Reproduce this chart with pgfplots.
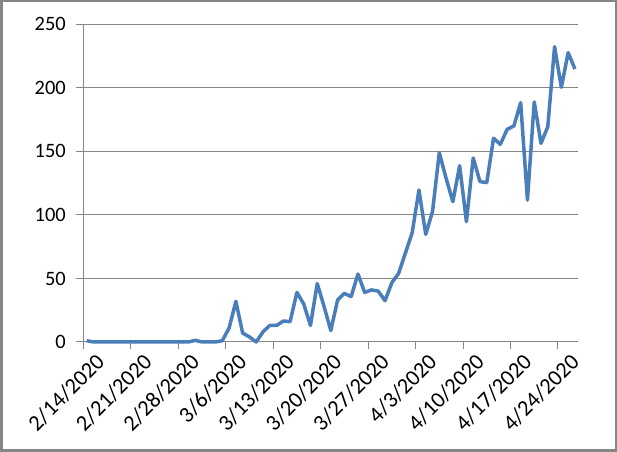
\documentclass[border=0pt]{standalone}
\usepackage{pgfplots}
\pgfplotsset{compat=1.18}
\usepackage{fontspec}
\setmainfont{Carlito}
\definecolor{serieblue}{RGB}{74,126,187}
\definecolor{gridgray}{RGB}{134,134,134}
\begin{document}
\begin{tikzpicture}[x=1bp,y=1bp]
\path[use as bounding box] (0,0) rectangle (617,452);
\begin{axis}[
  at={(83.3bp,110bp)}, anchor=south west,
  scale only axis, width=495bp, height=317.7bp,
  xmin=-0.5, xmax=72.5, ymin=0, ymax=250,
  axis lines*=left,
  axis line style={gridgray, line width=1bp},
  tick style={gridgray, line width=1bp},
  tick align=outside,
  major tick length=7bp,
  ymajorgrids,
  grid style={gridgray, line width=1bp},
  ytick={0,50,100,150,200,250},
  xtick={-0.5,6.5,13.5,20.5,27.5,34.5,41.5,48.5,55.5,62.5,69.5},
  xticklabels={2/14/2020,2/21/2020,2/28/2020,3/6/2020,3/13/2020,3/20/2020,3/27/2020,4/3/2020,4/10/2020,4/17/2020,4/24/2020},
  tick label style={font=\fontsize{20.5}{22}\selectfont},
  /pgf/number format/assume math mode=true,
  xticklabel style={font=\fontsize{22.5}{24}\selectfont, rotate=45, anchor=north east, xshift=9bp, yshift=-7bp},
  yticklabel style={xshift=-7bp},
  clip=false,
]
\addplot[serieblue, line width=3.5bp, line join=round] coordinates {
(0,1) (1,0) (2,0) (3,0) (4,0) (5,0) (6,0) (7,0) (8,0) (9,0)
(10,0) (11,0) (12,0) (13,0) (14,0) (15,0) (16,1.3) (17,0) (18,0) (19,0)
(20,1) (21,11) (22,32) (23,7) (24,4) (25,0) (26,8) (27,13) (28,13) (29,16.5)
(30,16) (31,39) (32,30) (33,13) (34,46) (35,28) (36,9) (37,33) (38,38.3) (39,35.7)
(40,53.5) (41,39) (42,41) (43,40) (44,32.5) (45,46.7) (46,54) (47,70) (48,86) (49,119.6)
(50,84.7) (51,102.6) (52,149) (53,128.8) (54,110.4) (55,138.8) (56,94.7) (57,144.8) (58,126.2) (59,125.4)
(60,160.3) (61,155.5) (62,167.3) (63,170) (64,188.3) (65,111.7) (66,188.9) (67,156.3) (68,169.4) (69,232.4)
(70,200.4) (71,227.7) (72,214.8)
};
\end{axis}
\draw[gridgray, line width=2.5bp] (1.25,1.25) rectangle (615.75,450.75);
\end{tikzpicture}
\end{document}
